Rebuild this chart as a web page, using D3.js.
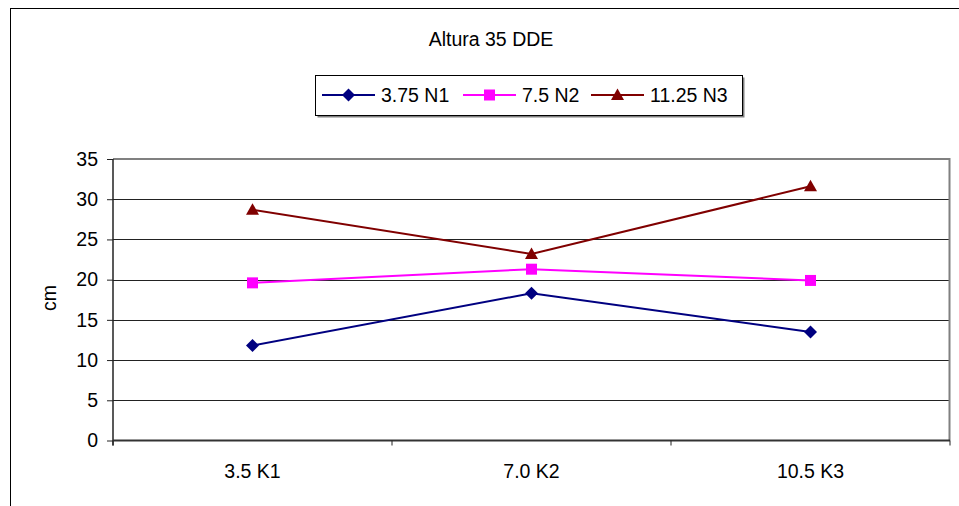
<!DOCTYPE html>
<html>
<head>
<meta charset="utf-8">
<script src="https://cdn.jsdelivr.net/npm/d3@7"></script>
<style>
  html, body { margin: 0; padding: 0; background: #fff; }
  svg { display: block; font-family: "Liberation Sans", Arial, sans-serif; }
</style>
</head>
<body>
<svg id="chart" width="959" height="506"></svg>
<script>
const title = "Altura 35 DDE";
const categories = ["3.5 K1", "7.0 K2", "10.5 K3"];
const seriesNames = ["3.75 N1", "7.5 N2", "11.25 N3"];
const seriesN1 = [11.8, 18.3, 13.5];
const seriesN2 = [19.6, 21.3, 19.9];
const seriesN3 = [28.7, 23.2, 31.6];
const yTicks = [0, 5, 10, 15, 20, 25, 30, 35];
const yLabel = "cm";
const colors = ["#000080", "#FF00FF", "#800000"];
const markers = ["diamond", "square", "triangle"];

const series = [seriesN1, seriesN2, seriesN3].map((v, i) => ({
  name: seriesNames[i], values: v, color: colors[i], marker: markers[i]
}));

const svg = d3.select("#chart");
const W = 959, H = 506;
const plot = { left: 113, right: 949, top: 159, bottom: 440.5 };

// outer chart border
svg.append("rect").attr("x", 10.5).attr("y", 8.5).attr("width", W + 10).attr("height", H + 10)
  .attr("fill", "#fff").attr("stroke", "#000").attr("stroke-width", 1);

const x = d3.scaleBand().domain(categories).range([plot.left, plot.right + 1]).padding(0);
const y = d3.scaleLinear().domain([0, 35]).range([plot.bottom, plot.top]);

// gridlines
svg.append("g").selectAll("line").data(yTicks.filter(t => t > 0 && t < 35)).join("line")
  .attr("x1", plot.left).attr("x2", plot.right)
  .attr("y1", d => Math.round(y(d)) + 0.5).attr("y2", d => Math.round(y(d)) + 0.5)
  .attr("stroke", "#222").attr("stroke-width", 1);

// plot top and right border (gray)
svg.append("line").attr("x1", plot.left).attr("x2", plot.right + 1)
  .attr("y1", y(35)).attr("y2", y(35)).attr("stroke", "#808080").attr("stroke-width", 2);
svg.append("line").attr("x1", plot.right + 0.5).attr("x2", plot.right + 0.5)
  .attr("y1", y(35) - 1).attr("y2", plot.bottom).attr("stroke", "#808080").attr("stroke-width", 2);

// Y axis
const yAxis = d3.axisLeft(y).tickValues(yTicks).tickSize(6).tickPadding(9).tickFormat(d3.format("d"));
const gy = svg.append("g").attr("transform", `translate(${plot.left},0)`).call(yAxis);
gy.select(".domain").attr("stroke", "#222").attr("stroke-width", 1.5).attr("d", `M0,${plot.top}V${plot.bottom + 5}`);
gy.selectAll(".tick line").attr("stroke", "#222");
gy.selectAll(".tick text").attr("font-size", "19.5px").attr("fill", "#000")
  .attr("font-family", "'Liberation Sans', Arial, sans-serif");

// X axis
const gx = svg.append("g").attr("transform", `translate(0,${plot.bottom})`);
gx.append("line").attr("x1", plot.left).attr("x2", plot.right + 1).attr("y1", 0).attr("y2", 0)
  .attr("stroke", "#333").attr("stroke-width", 2.2);
const bounds = categories.map(c => x(c)).concat([x(categories[categories.length - 1]) + x.bandwidth()]);
gx.selectAll("line.tk").data(bounds).join("line").attr("class", "tk")
  .attr("x1", d => d).attr("x2", d => d).attr("y1", 0).attr("y2", 5).attr("stroke", "#222");
gx.selectAll("text").data(categories).join("text")
  .attr("x", d => x(d) + x.bandwidth() / 2).attr("y", 37)
  .attr("text-anchor", "middle").attr("font-size", "19.5px").attr("fill", "#000").text(d => d);

// Y label
svg.append("text").attr("transform", `translate(56,298) rotate(-90)`)
  .attr("text-anchor", "middle").attr("font-size", "19.5px").attr("fill", "#000").text(yLabel);

// title
svg.append("text").attr("x", 491).attr("y", 46).attr("text-anchor", "middle")
  .attr("font-size", "19.5px").attr("fill", "#000").text(title);

function markerPath(type) {
  if (type === "diamond") return d3.symbol().type(d3.symbolDiamond2 || d3.symbolDiamond).size(90)();
  if (type === "square") return "M-5.5,-5.5H5.5V5.5H-5.5Z";
  return "M0,-6.5L6.5,5L-6.5,5Z";
}
function diamondPath() { return "M0,-6.5L6.5,0L0,6.5L-6.5,0Z"; }
function mpath(type) { return type === "diamond" ? diamondPath() : markerPath(type); }

const cx = c => x(c) + x.bandwidth() / 2;
const line = d3.line().x((d, i) => cx(categories[i])).y(d => y(d));

const gs = svg.append("g").selectAll("g").data(series).join("g");
gs.append("path").attr("d", d => line(d.values)).attr("fill", "none")
  .attr("stroke", d => d.color).attr("stroke-width", 2);
gs.each(function (s) {
  d3.select(this).selectAll("path.m").data(s.values).join("path").attr("class", "m")
    .attr("transform", (v, i) => `translate(${cx(categories[i])},${y(v)})`)
    .attr("d", mpath(s.marker)).attr("fill", s.color);
});

// legend
const lg = { x: 315.5, y: 75.5, w: 427, h: 40 };
svg.append("rect").attr("x", lg.x + 2).attr("y", lg.y + 2).attr("width", lg.w).attr("height", lg.h)
  .attr("fill", "#808080");
svg.append("rect").attr("x", lg.x).attr("y", lg.y).attr("width", lg.w).attr("height", lg.h)
  .attr("fill", "#fff").attr("stroke", "#000").attr("stroke-width", 1);
const legendX = [322, 463, 591];
const legendY = 95;
series.forEach((s, i) => {
  const g = svg.append("g").attr("transform", `translate(${legendX[i]},${legendY})`);
  g.append("line").attr("x1", 0).attr("x2", 53).attr("y1", 0).attr("y2", 0)
    .attr("stroke", s.color).attr("stroke-width", 2);
  g.append("path").attr("transform", "translate(26.5,0)").attr("d", mpath(s.marker)).attr("fill", s.color);
  g.append("text").attr("x", 59).attr("y", 7).attr("font-size", "19.5px").attr("fill", "#000").text(s.name);
});
</script>
</body>
</html>
